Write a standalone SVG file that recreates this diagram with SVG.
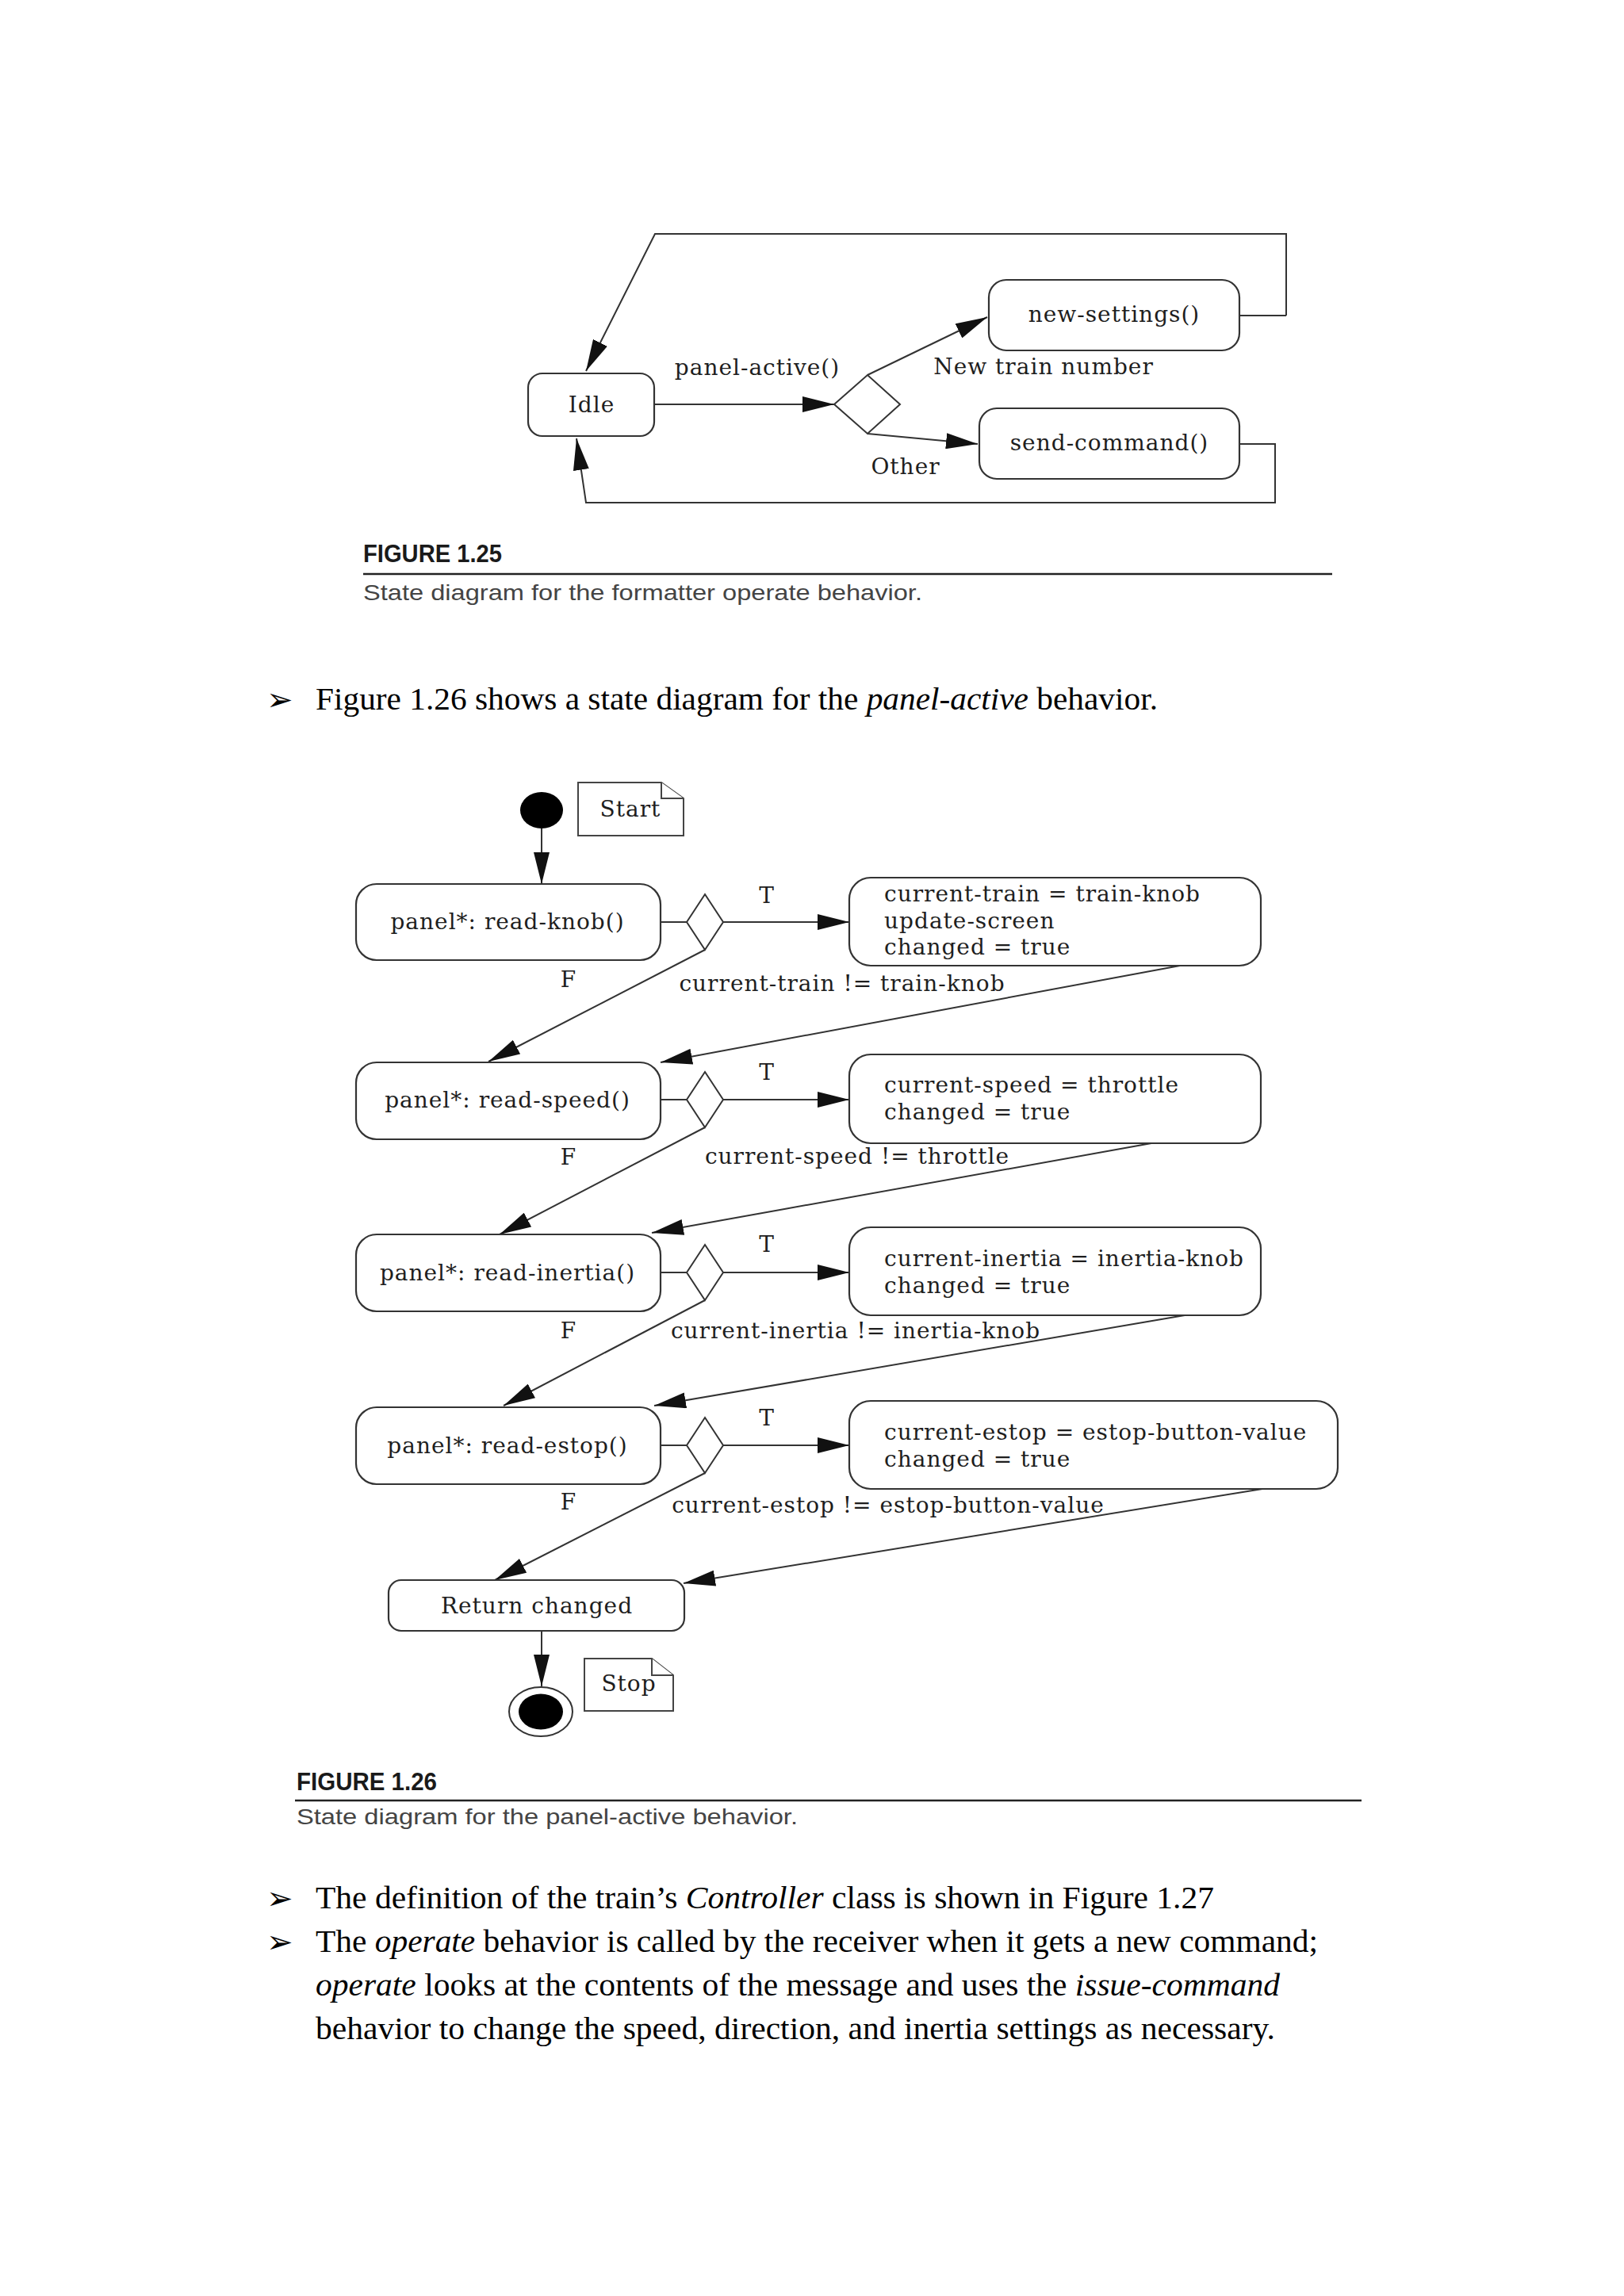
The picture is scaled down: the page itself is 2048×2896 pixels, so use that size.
<svg xmlns="http://www.w3.org/2000/svg" width="2048" height="2896" viewBox="0 0 2048 2896">
<style>
.bg{fill:#ffffff}
.box{fill:#ffffff;stroke:#333333;stroke-width:2.2}
.dia{fill:#ffffff;stroke:#333333;stroke-width:2}
.note{fill:#ffffff;stroke:#444444;stroke-width:2}
.ln{fill:none;stroke:#333333;stroke-width:2}
.arr{fill:none;stroke:#333333;stroke-width:2;marker-end:url(#ah)}
.t{font-family:"DejaVu Serif","Liberation Serif",serif;font-size:28px;letter-spacing:1px;fill:#1e1e1e}
.tm{text-anchor:middle}
.fig{font-family:"Liberation Sans","DejaVu Sans",sans-serif;font-weight:bold;font-size:31px;fill:#1a1a1a}
.cap{font-family:"Liberation Sans","DejaVu Sans",sans-serif;font-size:28px;fill:#444444}
.body{font-family:"Liberation Serif","Times New Roman",serif;font-size:40px;fill:#000000}
.bul{font-family:"DejaVu Sans",sans-serif;font-size:40px;fill:#000000}
.it{font-style:italic}
</style>
<defs>
<marker id="ah" markerWidth="40" markerHeight="20" refX="40" refY="10" orient="auto" markerUnits="userSpaceOnUse">
<path d="M0,0 L40,10 L0,20 z" fill="#111111"/>
</marker>
</defs>
<rect class="bg" x="0" y="0" width="2048" height="2896"/>

<!-- ================= FIGURE 1.25 ================= -->
<g id="fig125-connectors">
<path class="arr" d="M1622,398 L1622,295 L826,295 L739,468"/>
<path class="ln" d="M1563,398 L1622,398"/>
<path class="arr" d="M825,510 L1052,510"/>
<path class="arr" d="M1094,473 L1245,400"/>
<path class="arr" d="M1094,547 L1233,560"/>
<path class="arr" d="M1563,560 L1608,560 L1608,634 L739,634 L727,553"/>
</g>
<g id="idle">
<rect class="box" x="666" y="471" width="159" height="79" rx="18"/>
<text class="t tm" x="746" y="520">Idle</text>
</g>
<g id="decision-125">
<polygon class="dia" points="1052,510 1094,473 1135,510 1094,547"/>
</g>
<g id="new-settings">
<rect class="box" x="1247" y="353" width="316" height="89" rx="22"/>
<text class="t tm" x="1405" y="406">new-settings()</text>
</g>
<g id="send-command">
<rect class="box" x="1235" y="515" width="328" height="89" rx="22"/>
<text class="t tm" x="1399" y="568">send-command()</text>
</g>
<g id="fig125-labels">
<text class="t tm" x="955" y="473">panel-active()</text>
<text class="t tm" x="1316" y="472">New train number</text>
<text class="t tm" x="1142" y="598">Other</text>
</g>
<g id="fig125-caption">
<text class="fig" x="458" y="709" textLength="175" lengthAdjust="spacingAndGlyphs">FIGURE 1.25</text>
<line x1="458" y1="724" x2="1680" y2="724" stroke="#222222" stroke-width="2.5"/>
<text class="cap" x="458" y="757" textLength="705" lengthAdjust="spacingAndGlyphs">State diagram for the formatter operate behavior.</text>
</g>

<!-- bullet 1 -->
<g id="bullet-1">
<text class="bul" x="336" y="896">➢</text>
<text class="body" x="398" y="895" textLength="1062" lengthAdjust="spacingAndGlyphs">Figure 1.26 shows a state diagram for the <tspan class="it">panel-active</tspan> behavior.</text>
</g>

<!-- ================= FIGURE 1.26 ================= -->
<g id="fig126-connectors">
<path class="arr" d="M683,1045 L683,1115"/>
<!-- row 1 -->
<path class="ln" d="M833,1163 L866,1163"/>
<path class="arr" d="M912,1163 L1071,1163"/>
<path class="arr" d="M889,1198 L616,1339"/>
<path class="arr" d="M1488,1218 L833,1340"/>
<!-- row 2 -->
<path class="ln" d="M833,1387 L866,1387"/>
<path class="arr" d="M912,1387 L1071,1387"/>
<path class="arr" d="M889,1422 L630,1557"/>
<path class="arr" d="M1452,1442 L822,1555"/>
<!-- row 3 -->
<path class="ln" d="M833,1605 L866,1605"/>
<path class="arr" d="M912,1605 L1071,1605"/>
<path class="arr" d="M889,1640 L635,1773"/>
<path class="arr" d="M1494,1659 L825,1773"/>
<!-- row 4 -->
<path class="ln" d="M833,1823 L866,1823"/>
<path class="arr" d="M912,1823 L1071,1823"/>
<path class="arr" d="M889,1858 L624,1993"/>
<path class="arr" d="M1592,1878 L862,1997"/>
<path class="arr" d="M683,2057 L683,2127"/>
</g>

<g id="start">
<ellipse cx="683" cy="1022" rx="27" ry="23" fill="#000000"/>
</g>
<g id="start-note">
<path class="note" d="M729,987 L834,987 L862,1007 L862,1054 L729,1054 z"/>
<path class="note" d="M834,987 L834,1007 L862,1007" fill="none"/>
<text class="t tm" x="795" y="1030">Start</text>
</g>

<g id="read-knob">
<rect class="box" x="449" y="1115" width="384" height="96" rx="26"/>
<text class="t tm" x="640" y="1172">panel*: read-knob()</text>
</g>
<g id="decision-knob"><polygon class="dia" points="866,1163 889,1128 912,1163 889,1198"/></g>
<g id="knob-true">
<rect class="box" x="1071" y="1107" width="519" height="111" rx="27"/>
<text class="t" x="1115" y="1137">current-train = train-knob</text>
<text class="t" x="1115" y="1171">update-screen</text>
<text class="t" x="1115" y="1204">changed = true</text>
</g>

<g id="read-speed">
<rect class="box" x="449" y="1340" width="384" height="97" rx="26"/>
<text class="t tm" x="640" y="1397">panel*: read-speed()</text>
</g>
<g id="decision-speed"><polygon class="dia" points="866,1387 889,1352 912,1387 889,1422"/></g>
<g id="speed-true">
<rect class="box" x="1071" y="1330" width="519" height="112" rx="27"/>
<text class="t" x="1115" y="1378">current-speed = throttle</text>
<text class="t" x="1115" y="1412">changed = true</text>
</g>

<g id="read-inertia">
<rect class="box" x="449" y="1557" width="384" height="97" rx="26"/>
<text class="t tm" x="640" y="1615">panel*: read-inertia()</text>
</g>
<g id="decision-inertia"><polygon class="dia" points="866,1605 889,1570 912,1605 889,1640"/></g>
<g id="inertia-true">
<rect class="box" x="1071" y="1548" width="519" height="111" rx="27"/>
<text class="t" x="1115" y="1597">current-inertia = inertia-knob</text>
<text class="t" x="1115" y="1631">changed = true</text>
</g>

<g id="read-estop">
<rect class="box" x="449" y="1775" width="384" height="97" rx="26"/>
<text class="t tm" x="640" y="1833">panel*: read-estop()</text>
</g>
<g id="decision-estop"><polygon class="dia" points="866,1823 889,1788 912,1823 889,1858"/></g>
<g id="estop-true">
<rect class="box" x="1071" y="1767" width="616" height="111" rx="27"/>
<text class="t" x="1115" y="1816">current-estop = estop-button-value</text>
<text class="t" x="1115" y="1850">changed = true</text>
</g>

<g id="return-changed">
<rect class="box" x="490" y="1993" width="373" height="64" rx="16"/>
<text class="t tm" x="677" y="2035">Return changed</text>
</g>
<g id="stop">
<ellipse cx="682" cy="2159" rx="40" ry="31" fill="#ffffff" stroke="#333333" stroke-width="2"/>
<ellipse cx="682" cy="2159" rx="28" ry="22.5" fill="#000000"/>
</g>
<g id="stop-note">
<path class="note" d="M737,2092 L822,2092 L849,2113 L849,2158 L737,2158 z"/>
<path class="note" d="M822,2092 L822,2113 L849,2113" fill="none"/>
<text class="t tm" x="793" y="2133">Stop</text>
</g>

<g id="fig126-labels">
<text class="t tm" x="967" y="1139">T</text>
<text class="t tm" x="967" y="1362">T</text>
<text class="t tm" x="967" y="1579">T</text>
<text class="t tm" x="967" y="1798">T</text>
<text class="t tm" x="717" y="1245">F</text>
<text class="t tm" x="717" y="1469">F</text>
<text class="t tm" x="717" y="1688">F</text>
<text class="t tm" x="717" y="1904">F</text>
<text class="t tm" x="1062" y="1250">current-train != train-knob</text>
<text class="t tm" x="1081" y="1468">current-speed != throttle</text>
<text class="t tm" x="1079" y="1688">current-inertia != inertia-knob</text>
<text class="t tm" x="1120" y="1908">current-estop != estop-button-value</text>
</g>

<g id="fig126-caption">
<text class="fig" x="374" y="2258" textLength="177" lengthAdjust="spacingAndGlyphs">FIGURE 1.26</text>
<line x1="372" y1="2271" x2="1717" y2="2271" stroke="#222222" stroke-width="2.5"/>
<text class="cap" x="374" y="2301" textLength="632" lengthAdjust="spacingAndGlyphs">State diagram for the panel-active behavior.</text>
</g>

<g id="bullets-2">
<text class="bul" x="336" y="2408">➢</text>
<text class="body" x="398" y="2407" textLength="1133" lengthAdjust="spacingAndGlyphs">The definition of the train’s <tspan class="it">Controller</tspan> class is shown in Figure 1.27</text>
<text class="bul" x="336" y="2463">➢</text>
<text class="body" x="398" y="2462" textLength="1264" lengthAdjust="spacingAndGlyphs">The <tspan class="it">operate</tspan> behavior is called by the receiver when it gets a new command;</text>
<text class="body" x="398" y="2517" textLength="1216" lengthAdjust="spacingAndGlyphs"><tspan class="it">operate</tspan> looks at the contents of the message and uses the <tspan class="it">issue-command</tspan></text>
<text class="body" x="398" y="2572" textLength="1210" lengthAdjust="spacingAndGlyphs">behavior to change the speed, direction, and inertia settings as necessary.</text>
</g>
</svg>
